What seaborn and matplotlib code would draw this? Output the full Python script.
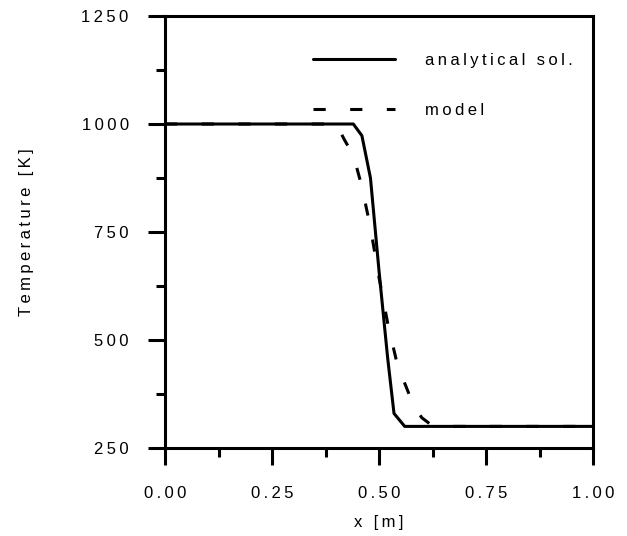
import pandas as pd
import matplotlib.pyplot as plt
from matplotlib.ticker import MultipleLocator
import seaborn as sns

# values
x_analytical = [0.0, 0.44, 0.46, 0.48, 0.50, 0.52, 0.535, 0.56, 1.0]
T_analytical = [1000, 1000, 973, 875, 660, 460, 330, 300, 300]

x_model = [0.0, 0.40, 0.42, 0.44, 0.46, 0.48, 0.50, 0.52, 0.54, 0.56, 0.58, 0.60, 0.62, 0.64, 1.0]
T_model = [1000, 1000, 962, 928, 855, 760, 645, 540, 455, 400, 350, 320, 305, 300, 300]

x_ticks = [0.0, 0.25, 0.5, 0.75, 1.0]
y_ticks = [250, 500, 750, 1000, 1250]


def spaced(s):
    # the original uses wide letter spacing; thin spaces between characters
    return '\u2009'.join(s)


df = pd.concat([
    pd.DataFrame({'x': x_analytical, 'T': T_analytical, 'series': spaced('analytical sol.')}),
    pd.DataFrame({'x': x_model, 'T': T_model, 'series': spaced('model')}),
], ignore_index=True)

sns.set_style('white')
plt.rcParams['font.family'] = ['Liberation Sans', 'DejaVu Sans']
plt.rcParams['text.color'] = 'black'
plt.rcParams['axes.labelcolor'] = 'black'
plt.rcParams['xtick.color'] = 'black'
plt.rcParams['ytick.color'] = 'black'

fig = plt.figure(figsize=(6.27, 5.36), dpi=100)
ax = fig.add_axes([0.2632, 0.1642, 0.6826, 0.8059])

sns.lineplot(data=df, x='x', y='T', hue='series', style='series',
             palette=['black', 'black'],
             dashes={spaced('analytical sol.'): '', spaced('model'): (4, 8)},
             linewidth=2.2, ax=ax)

ax.set_xlim(0, 1)
ax.set_ylim(250, 1250)
ax.set_xticks(x_ticks, labels=[spaced(f'{v:.2f}') for v in x_ticks])
ax.set_yticks(y_ticks, labels=[spaced(str(v)) for v in y_ticks])
ax.xaxis.set_minor_locator(MultipleLocator(0.125))
ax.yaxis.set_minor_locator(MultipleLocator(125))

ax.tick_params(which='major', direction='out', length=12.2, width=2.2, labelsize=12, pad=14)
ax.tick_params(which='minor', direction='out', length=6.8, width=2.2)
ax.tick_params(axis='x', which='major', pad=15)
ax.tick_params(bottom=True, left=True, which='both')

for sp in ax.spines.values():
    sp.set_visible(True)
    sp.set_linewidth(2.2)
    sp.set_color('black')

ax.set_xlabel(spaced('x [m]'), fontsize=12, labelpad=10)
ax.set_ylabel(spaced('Temperature [K]'), fontsize=12)
ax.yaxis.set_label_coords(-0.305, 0.5)

leg = ax.legend(loc='upper right', bbox_to_anchor=(0.952, 0.914), frameon=False,
                fontsize=12, handlelength=4.9, handletextpad=1.8,
                labelspacing=2.1, borderaxespad=0, borderpad=0)
for line in leg.get_lines():
    line.set_linewidth(2.2)

fig.savefig('out.png', dpi=100)
